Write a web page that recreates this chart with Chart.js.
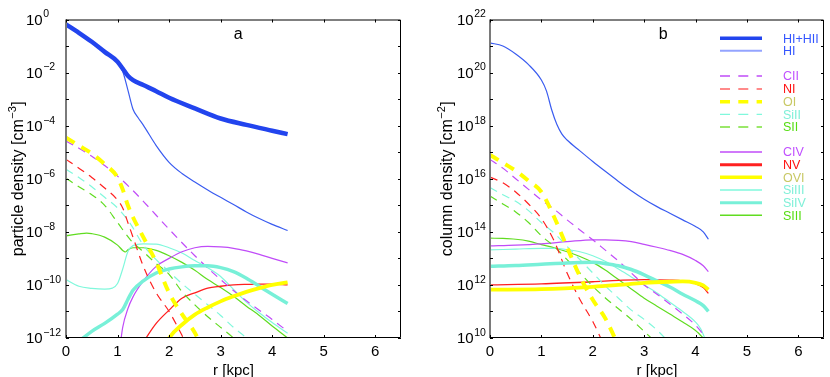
<!DOCTYPE html>
<html>
<head>
<meta charset="utf-8">
<script src="https://cdn.jsdelivr.net/npm/chart.js@4.4.1/dist/chart.umd.min.js"></script>
<style>
  html, body { margin: 0; padding: 0; background: #fff; }
  #wrap { position: relative; width: 830px; height: 377px; overflow: hidden; }
  canvas { position: absolute; top: 0; }
  #panelA { left: 0; }
  #panelB { left: 415px; }
</style>
</head>
<body>
<div id="wrap">
  <canvas id="panelA" width="415" height="377"></canvas>
  <canvas id="panelB" width="415" height="377"></canvas>
</div>
<script>
// ---- panel a : particle density, log10 [cm^-3] vs r [kpc] ----
var aHItotR = [0, 0.25, 0.5, 0.75, 1.0, 1.1, 1.2, 1.3, 1.5, 1.75, 2.0, 2.5, 3.0, 3.5, 4.0, 4.3];
var aHItot  = [-0.18, -0.5, -0.84, -1.22, -1.59, -1.85, -2.12, -2.28, -2.47, -2.7, -2.95, -3.35, -3.73, -3.97, -4.19, -4.32];
var aHIR = [0, 0.25, 0.5, 0.75, 1.0, 1.1, 1.2, 1.3, 1.4, 1.5, 1.75, 2.0, 2.25, 2.5, 2.75, 3.0, 3.25, 3.5, 3.75, 4.0, 4.3];
var aHI  = [-0.18, -0.5, -0.84, -1.22, -1.59, -1.95, -2.65, -3.38, -3.7, -3.98, -4.75, -5.38, -5.8, -6.12, -6.42, -6.7, -6.97, -7.25, -7.5, -7.72, -7.95];
var aCIIR = [0, 0.25, 0.5, 0.75, 1.0, 1.25, 1.5, 2.0, 2.5, 3.0, 3.5, 4.0, 4.3];
var aCII  = [-4.58, -4.85, -5.15, -5.5, -5.9, -6.35, -6.85, -7.9, -8.9, -9.8, -10.6, -11.3, -11.75];
var aNIR = [0, 0.25, 0.5, 0.75, 1.0, 1.1, 1.2, 1.3, 1.5, 1.75, 2.0, 2.25, 2.3];
var aNI  = [-5.27, -5.6, -5.95, -6.35, -6.8, -7.1, -7.65, -8.2, -9.3, -10.3, -11.0, -11.9, -12.1];
var aOIR = [0, 0.25, 0.5, 0.75, 1.0, 1.1, 1.2, 1.3, 1.5, 1.75, 2.0, 2.25, 2.5, 2.6];
var aOI  = [-4.45, -4.75, -5.05, -5.45, -5.95, -6.4, -7.0, -7.45, -8.2, -9.15, -10.3, -11.1, -11.8, -12.2];
var aSiIIR = [0, 0.25, 0.5, 0.75, 1.0, 1.25, 1.5, 1.75, 2.0, 2.25, 2.5, 2.75, 3.0, 3.25, 3.5, 3.6];
var aSiII  = [-5.64, -5.95, -6.3, -6.7, -7.1, -7.7, -8.5, -9.05, -9.5, -9.95, -10.35, -10.75, -11.15, -11.6, -12.0, -12.2];
var aSIIR = [0, 0.25, 0.5, 0.75, 1.0, 1.25, 1.5, 1.75, 2.0, 2.25, 2.5, 2.75, 3.0, 3.25, 3.35];
var aSII  = [-5.98, -6.3, -6.6, -7.0, -7.65, -8.3, -8.75, -9.2, -9.6, -10.25, -10.75, -11.2, -11.6, -12.0, -12.2];
var aCIVR = [1.05, 1.1, 1.2, 1.3, 1.5, 1.75, 2.0, 2.25, 2.5, 2.75, 3.0, 3.25, 3.5, 3.75, 4.0, 4.3];
var aCIV  = [-12.3, -11.6, -10.9, -10.45, -9.85, -9.3, -9.0, -8.75, -8.6, -8.55, -8.57, -8.62, -8.72, -8.85, -9.0, -9.17];
var aNVR = [1.5, 1.75, 2.0, 2.25, 2.5, 2.75, 3.0, 3.25, 3.5, 3.75, 4.0, 4.3];
var aNV  = [-12.15, -11.45, -10.95, -10.5, -10.3, -10.12, -10.05, -10.0, -9.98, -9.97, -9.97, -10.0];
var aOVIR = [1.95, 2.0, 2.25, 2.5, 2.75, 3.0, 3.25, 3.5, 3.75, 4.0, 4.3];
var aOVI  = [-12.2, -12.0, -11.5, -11.12, -10.85, -10.62, -10.43, -10.26, -10.12, -10.0, -9.9];
var aSiIIIR = [0, 0.25, 0.5, 0.75, 0.9, 1.0, 1.1, 1.2, 1.3, 1.5, 1.75, 2.0, 2.25, 2.5, 2.75, 3.0, 3.25, 3.5, 3.75, 4.0, 4.3];
var aSiIII  = [-9.8, -10.05, -10.13, -10.16, -10.12, -9.95, -9.4, -8.75, -8.52, -8.45, -8.46, -8.6, -8.8, -9.08, -9.35, -9.68, -10.17, -10.65, -11.05, -11.42, -11.82];
var aSiIVR = [0.3, 0.5, 0.75, 1.0, 1.1, 1.2, 1.3, 1.5, 1.75, 2.0, 2.25, 2.5, 2.75, 3.0, 3.25, 3.5, 3.75, 4.0, 4.3];
var aSiIV  = [-12.05, -11.75, -11.45, -11.1, -10.93, -10.55, -10.2, -9.85, -9.55, -9.4, -9.32, -9.28, -9.28, -9.35, -9.5, -9.75, -10.05, -10.35, -10.7];
var aSIIIR = [0, 0.25, 0.4, 0.5, 0.75, 1.0, 1.1, 1.15, 1.2, 1.3, 1.5, 1.75, 2.0, 2.25, 2.5, 2.75, 3.0, 3.25, 3.5, 3.75, 4.0, 4.3];
var aSIII  = [-8.15, -8.08, -8.05, -8.07, -8.2, -8.5, -8.7, -8.76, -8.68, -8.6, -8.6, -8.7, -8.9, -9.15, -9.45, -9.8, -10.1, -10.43, -10.8, -11.15, -11.55, -12.0];

// ---- panel b : column density, log10 [cm^-2] vs r [kpc] ----
var bHIR = [0, 0.25, 0.5, 0.75, 1.0, 1.1, 1.2, 1.3, 1.4, 1.5, 1.75, 2.0, 2.25, 2.5, 2.75, 3.0, 3.25, 3.5, 3.75, 4.0, 4.15, 4.25];
var bHI  = [21.12, 21.0, 20.7, 20.3, 19.72, 19.3, 18.6, 18.05, 17.68, 17.46, 17.05, 16.65, 16.27, 15.9, 15.55, 15.23, 14.95, 14.7, 14.45, 14.2, 14.0, 13.72];
var bCIIR = [0, 0.25, 0.5, 0.75, 1.0, 1.25, 1.5, 1.75, 2.0, 2.25, 2.5, 2.75, 3.0, 3.25, 3.5, 3.75, 4.0, 4.25];
var bCII  = [16.73, 16.4, 16.0, 15.6, 15.2, 14.85, 14.45, 14.07, 13.7, 13.3, 12.9, 12.45, 12.0, 11.65, 11.28, 10.9, 10.48, 9.9];
var bNIR = [0, 0.25, 0.5, 0.75, 1.0, 1.25, 1.5, 1.75, 2.0, 2.25];
var bNI  = [16.06, 15.85, 15.5, 15.05, 14.5, 13.65, 12.45, 11.45, 10.62, 9.6];
var bOIR = [0, 0.25, 0.5, 0.75, 1.0, 1.25, 1.5, 1.75, 2.0, 2.25, 2.5];
var bOI  = [16.9, 16.6, 16.3, 15.92, 15.5, 14.55, 13.42, 12.32, 11.44, 10.72, 9.7];
var bSiIIR = [0, 0.25, 0.5, 0.75, 1.0, 1.25, 1.5, 1.75, 2.0, 2.25, 2.5, 2.75, 3.0, 3.25, 3.5];
var bSiII  = [15.67, 15.4, 15.15, 14.8, 14.35, 13.95, 13.45, 12.95, 12.45, 11.95, 11.5, 11.05, 10.7, 10.3, 9.8];
var bSIIR = [0, 0.25, 0.5, 0.75, 1.0, 1.25, 1.5, 1.75, 2.0, 2.25, 2.5, 2.75, 3.0, 3.25];
var bSII  = [15.35, 15.05, 14.75, 14.35, 13.85, 13.45, 12.95, 12.45, 11.95, 11.5, 11.1, 10.7, 10.25, 9.8];
var bCIVR = [0, 0.5, 1.0, 1.5, 2.0, 2.25, 2.5, 2.75, 3.0, 3.25, 3.5, 3.75, 4.0, 4.15, 4.25];
var bCIV  = [13.47, 13.5, 13.55, 13.63, 13.7, 13.7, 13.68, 13.63, 13.53, 13.42, 13.3, 13.15, 12.92, 12.72, 12.5];
var bNVR = [0, 1.0, 2.0, 2.5, 3.0, 3.5, 3.75, 4.0, 4.15, 4.25];
var bNV  = [12.0, 12.04, 12.12, 12.17, 12.2, 12.18, 12.15, 12.05, 11.9, 11.68];
var bOVIR = [0, 1.0, 2.0, 2.5, 3.0, 3.5, 3.75, 4.0, 4.15, 4.25];
var bOVI  = [11.82, 11.84, 11.93, 12.0, 12.08, 12.12, 12.13, 12.08, 11.98, 11.82];
var bSiIIIR = [0, 0.5, 1.0, 1.25, 1.5, 1.75, 2.0, 2.25, 2.5, 2.75, 3.0, 3.25, 3.5, 3.75, 4.0, 4.1, 4.2];
var bSiIII  = [13.32, 13.35, 13.38, 13.38, 13.33, 13.25, 13.1, 12.88, 12.6, 12.3, 12.0, 11.7, 11.35, 11.0, 10.6, 10.35, 9.9];
var bSiIVR = [0, 0.5, 1.0, 1.5, 2.0, 2.25, 2.5, 2.75, 3.0, 3.25, 3.5, 3.75, 4.0, 4.15, 4.25];
var bSiIV  = [12.7, 12.73, 12.78, 12.83, 12.85, 12.8, 12.72, 12.58, 12.38, 12.15, 11.92, 11.65, 11.4, 11.22, 11.0];
var bSIIIR = [0, 0.25, 0.5, 0.75, 1.0, 1.25, 1.5, 1.75, 2.0, 2.25, 2.5, 2.75, 3.0, 3.25, 3.5, 3.75, 4.0, 4.2];
var bSIII  = [13.76, 13.75, 13.72, 13.65, 13.52, 13.4, 13.25, 13.07, 12.85, 12.55, 12.2, 11.85, 11.5, 11.2, 10.9, 10.6, 10.28, 9.9];

// axis ticks
var xTicks = [0, 1, 2, 3, 4, 5, 6];
var aYLabels = [0, -2, -4, -6, -8, -10, -12];
var bYLabels = [22, 20, 18, 16, 14, 12, 10];
var legendNames = ['HI+HII', 'HI', 'CII', 'NI', 'OI', 'SiII', 'SII', 'CIV', 'NV', 'OVI', 'SiIII', 'SiIV', 'SIII'];

var FONT = '"Liberation Sans", Arial, Helvetica, sans-serif';

// line styles per species (legend sample drawn a bit differently)
var styles = {
    'HI+HII': { color: '#2244ee', width: 4.5, dash: [], text: '#3355ff', lw: 3.5, lc: '#2244ee' },
    'HI':     { color: '#3a5cf0', width: 1.2, dash: [], text: '#3355ff', lw: 2, lc: '#94a4ff' },
    'CII':    { color: '#c04cf8', width: 1.2, dash: [8, 6], text: '#c050ff', lw: 1.5, ld: [10, 8.3] },
    'NI':     { color: '#ff2020', width: 1.2, dash: [8, 6], text: '#ff1010', lw: 2, lc: '#ff8a8a', ld: [10, 8.3] },
    'OI':     { color: '#ffff00', width: 4, dash: [10, 8], text: '#c8c864', lw: 3.5, ld: [10, 8.3] },
    'SiII':   { color: '#80f8dc', width: 1.2, dash: [8, 6], text: '#80f0d8', lw: 1.2, ld: [10, 8.3] },
    'SII':    { color: '#60dc20', width: 1.2, dash: [8, 6], text: '#55dd11', lw: 2, lc: '#9be86a', ld: [10, 8.3] },
    'CIV':    { color: '#c04cf8', width: 1.2, dash: [], text: '#c050ff', lw: 1.5 },
    'NV':     { color: '#ff2020', width: 1.3, dash: [], text: '#ff1010', lw: 3 },
    'OVI':    { color: '#ffff00', width: 3.8, dash: [], text: '#c8c864', lw: 3.5 },
    'SiIII':  { color: '#80f8dc', width: 1.2, dash: [], text: '#80f0d8', lw: 1.5 },
    'SiIV':   { color: '#78f0d8', width: 3.5, dash: [], text: '#80f0d8', lw: 3 },
    'SIII':   { color: '#60dc20', width: 1.2, dash: [], text: '#55dd11', lw: 1.5 }
};

function series(name, rs, logs) {
    var s = styles[name];
    return {
        label: name,
        data: rs.map(function (r, i) { return { x: r, y: Math.pow(10, logs[i]) }; }),
        borderColor: s.color,
        borderWidth: s.width,
        borderDash: s.dash,
        showLine: true,
        pointRadius: 0,
        fill: false,
        cubicInterpolationMode: 'monotone'
    };
}

function sup(ctx, x, y, base, exp, baseSize, expSize) {
    ctx.font = baseSize + 'px ' + FONT;
    ctx.fillText(base, x, y);
    var w = ctx.measureText(base).width;
    ctx.font = expSize + 'px ' + FONT;
    ctx.fillText(exp, x + w + 0.5, y - 6);
}

var panelDecor = {
    id: 'panelDecor',
    afterDraw: function (chart, args, o) {
        var ctx = chart.ctx, a = chart.chartArea;
        var xs = chart.scales.x, ys = chart.scales.y;
        ctx.save();
        // frame
        ctx.strokeStyle = '#000';
        ctx.lineWidth = 1;
        ctx.beginPath();
        ctx.moveTo(a.left, a.top + 0.5); ctx.lineTo(a.right - 0.5, a.top + 0.5);
        ctx.lineTo(a.right - 0.5, a.bottom - 0.5); ctx.lineTo(a.left, a.bottom - 0.5);
        ctx.stroke();
        ctx.strokeStyle = '#7a7a7a';
        ctx.lineWidth = 2;
        ctx.beginPath();
        ctx.moveTo(a.left, a.top); ctx.lineTo(a.left, a.bottom);
        ctx.stroke();
        // tick marks, pointing inward
        ctx.strokeStyle = '#000';
        ctx.lineWidth = 1;
        ctx.beginPath();
        for (var e = o.yMin; e <= o.yMax; e++) {
            var y = Math.round(ys.getPixelForValue(Math.pow(10, e))) + 0.5;
            ctx.moveTo(a.left, y); ctx.lineTo(a.left + 3, y);
            ctx.moveTo(a.right, y); ctx.lineTo(a.right - 3, y);
        }
        xTicks.forEach(function (v) {
            var x = Math.round(xs.getPixelForValue(v)) + 0.5;
            ctx.moveTo(x, a.bottom); ctx.lineTo(x, a.bottom - 3);
            ctx.moveTo(x, a.top); ctx.lineTo(x, a.top + 3);
        });
        ctx.stroke();
        // tick labels
        ctx.fillStyle = '#000';
        ctx.textBaseline = 'middle';
        ctx.textAlign = 'left';
        o.yLabels.forEach(function (e) {
            var y = ys.getPixelForValue(Math.pow(10, e));
            var t = e < 0 ? '\u2212' + (-e) : String(e);
            sup(ctx, o.labelX, y + 1, '10', t, 15, 10.5);
        });
        ctx.textAlign = 'center';
        ctx.font = '15px ' + FONT;
        xTicks.forEach(function (v) {
            ctx.fillText(String(v), xs.getPixelForValue(v), a.bottom + 14);
        });
        // x title
        ctx.fillText('r [kpc]', xs.getPixelForValue(3.25), a.bottom + 33);
        // panel letter
        ctx.font = '16px ' + FONT;
        ctx.fillText(o.letter, xs.getPixelForValue(o.letterR), a.top + 15);
        // y title, rotated
        ctx.save();
        ctx.translate(o.titleX, (a.top + a.bottom) / 2);
        ctx.rotate(-Math.PI / 2);
        ctx.textAlign = 'left';
        ctx.textBaseline = 'alphabetic';
        ctx.font = '16px ' + FONT;
        var w1 = ctx.measureText(o.title).width;
        ctx.font = '11px ' + FONT;
        var w2 = ctx.measureText(o.titleExp).width;
        ctx.font = '16px ' + FONT;
        var w3 = ctx.measureText(']').width;
        var x0 = -(w1 + w2 + w3 + 1) / 2;
        ctx.fillText(o.title, x0, 0);
        ctx.font = '11px ' + FONT;
        ctx.fillText(o.titleExp, x0 + w1 + 0.5, -7);
        ctx.font = '16px ' + FONT;
        ctx.fillText(']', x0 + w1 + w2 + 1, 0);
        ctx.restore();
        // legend
        if (o.legend) {
            ctx.textAlign = 'left';
            ctx.textBaseline = 'middle';
            ctx.font = '12.5px ' + FONT;
            legendNames.forEach(function (n, i) {
                var s = styles[n];
                var y = o.legendY[i];
                ctx.strokeStyle = s.lc || s.color;
                ctx.lineWidth = s.lw;
                ctx.setLineDash(s.ld || []);
                ctx.beginPath();
                ctx.moveTo(o.legendX, y); ctx.lineTo(o.legendX + 42, y);
                ctx.stroke();
                ctx.setLineDash([]);
                ctx.fillStyle = s.text;
                ctx.fillText(n, o.legendX + 63, y + 1);
            });
        }
        ctx.restore();
    }
};

function makePanel(id, datasets, yMinE, yMaxE, axisW, padRight, deco) {
    deco.yMin = yMinE;
    deco.yMax = yMaxE;
    return new Chart(document.getElementById(id).getContext('2d'), {
        type: 'scatter',
        data: { datasets: datasets },
        options: {
            responsive: false,
            animation: false,
            devicePixelRatio: 1,
            layout: { padding: { top: 19.5, right: padRight, left: 0, bottom: 0 } },
            scales: {
                x: {
                    type: 'linear', min: 0, max: 6.5,
                    ticks: { display: false }, grid: { display: false }, border: { display: false },
                    afterFit: function (s) { s.height = 39; }
                },
                y: {
                    type: 'logarithmic', min: Math.pow(10, yMinE), max: Math.pow(10, yMaxE),
                    ticks: { display: false }, grid: { display: false }, border: { display: false },
                    afterFit: function (s) { s.width = axisW; }
                }
            },
            plugins: {
                legend: { display: false },
                tooltip: { enabled: false },
                panelDecor: deco
            }
        },
        plugins: [panelDecor]
    });
}

makePanel('panelA', [
    series('HI+HII', aHItotR, aHItot),
    series('HI', aHIR, aHI),
    series('OI', aOIR, aOI),
    series('OVI', aOVIR, aOVI),
    series('SiIV', aSiIVR, aSiIV),
    series('CII', aCIIR, aCII),
    series('NI', aNIR, aNI),
    series('SiII', aSiIIR, aSiII),
    series('SII', aSIIR, aSII),
    series('CIV', aCIVR, aCIV),
    series('NV', aNVR, aNV),
    series('SiIII', aSiIIIR, aSiIII),
    series('SIII', aSIIIR, aSIII)
], -12, 0, 66, 14, {
    yLabels: aYLabels, labelX: 26, letter: 'a', letterR: 3.34,
    title: 'particle density [cm', titleExp: '\u22123', titleX: 23, legend: false
});

makePanel('panelB', [
    series('HI', bHIR, bHI),
    series('OI', bOIR, bOI),
    series('OVI', bOVIR, bOVI),
    series('SiIV', bSiIVR, bSiIV),
    series('CII', bCIIR, bCII),
    series('NI', bNIR, bNI),
    series('SiII', bSiIIR, bSiII),
    series('SII', bSIIR, bSII),
    series('CIV', bCIVR, bCIV),
    series('NV', bNVR, bNV),
    series('SiIII', bSiIIIR, bSiIII),
    series('SIII', bSIIIR, bSIII)
], 10, 22, 75, 6, {
    yLabels: bYLabels, labelX: 42, letter: 'b', letterR: 3.37,
    title: 'column density [cm', titleExp: '\u22122', titleX: 37, legend: true,
    legendX: 305,
    legendY: [38.3, 50.7, 76, 89, 101.7, 114.3, 127, 152, 164.7, 177.3, 190, 202.7, 215.3]
});
</script>
</body>
</html>
